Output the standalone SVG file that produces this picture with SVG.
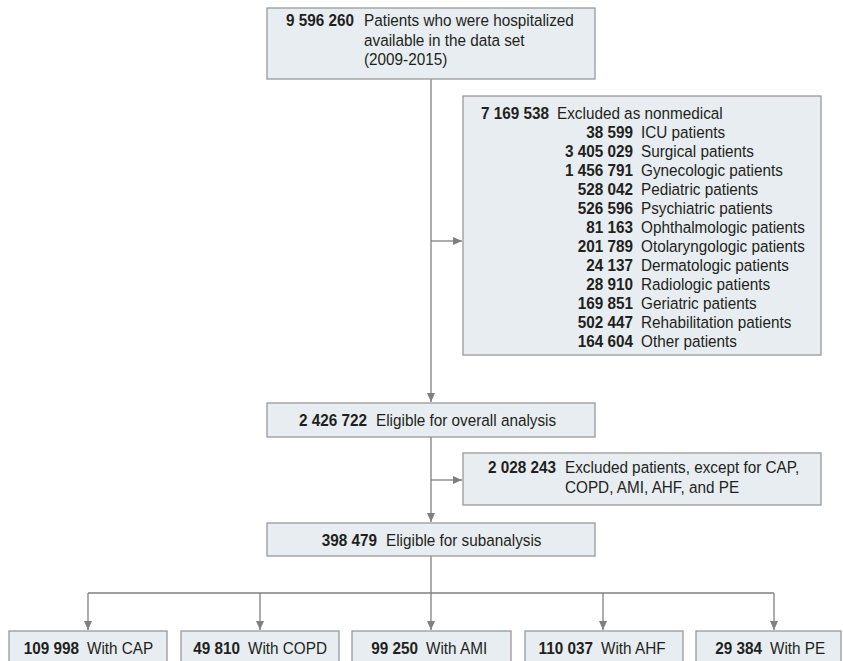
<svg xmlns="http://www.w3.org/2000/svg" width="843" height="661" viewBox="0 0 843 661">
<style>
.box{fill:#e7edf1;stroke:#999;stroke-width:1.3}
text{font-family:"Liberation Sans",Arial,sans-serif;font-size:17px;fill:#231f20}
.n{font-weight:bold;text-anchor:end}
.conn{fill:none;stroke:#808080;stroke-width:1.3}
</style>
<defs>
<marker id="ah" markerUnits="userSpaceOnUse" markerWidth="10" markerHeight="8" refX="9" refY="4" orient="auto">
<path d="M0,0 L9,4 L0,8 z" fill="#808080"/>
</marker>
</defs>
<g id="connectors" class="conn">
<line x1="431" y1="79" x2="431" y2="402" marker-end="url(#ah)"/>
<line x1="431" y1="241" x2="462" y2="241" marker-end="url(#ah)"/>
<line x1="431" y1="437" x2="431" y2="522" marker-end="url(#ah)"/>
<line x1="431" y1="480" x2="462" y2="480" marker-end="url(#ah)"/>
<line x1="431" y1="556" x2="431" y2="630" marker-end="url(#ah)"/>
<line x1="88" y1="593" x2="774" y2="593"/>
<line x1="88" y1="593" x2="88" y2="630" marker-end="url(#ah)"/>
<line x1="260" y1="593" x2="260" y2="630" marker-end="url(#ah)"/>
<line x1="603" y1="593" x2="603" y2="630" marker-end="url(#ah)"/>
<line x1="774" y1="593" x2="774" y2="630" marker-end="url(#ah)"/>
</g>
<g id="start">
<rect class="box" x="267" y="8" width="328" height="71"/>
<text class="n" transform="translate(354,26) scale(0.9,1)">9 596 260</text>
<text transform="translate(364,26) scale(0.9,1)">Patients who were hospitalized</text>
<text transform="translate(364,45.5) scale(0.9,1)">available in the data set</text>
<text transform="translate(364,65) scale(0.9,1)">(2009-2015)</text>
</g>
<g id="excluded1">
<rect class="box" x="463" y="96" width="358" height="259"/>
<text class="n" transform="translate(549,119) scale(0.9,1)">7 169 538</text>
<text transform="translate(557,119) scale(0.9,1)">Excluded as nonmedical</text>
<text class="n" transform="translate(633,138) scale(0.9,1)">38 599</text>
<text transform="translate(641,138) scale(0.9,1)">ICU patients</text>
<text class="n" transform="translate(633,157) scale(0.9,1)">3 405 029</text>
<text transform="translate(641,157) scale(0.9,1)">Surgical patients</text>
<text class="n" transform="translate(633,176) scale(0.9,1)">1 456 791</text>
<text transform="translate(641,176) scale(0.9,1)">Gynecologic patients</text>
<text class="n" transform="translate(633,195) scale(0.9,1)">528 042</text>
<text transform="translate(641,195) scale(0.9,1)">Pediatric patients</text>
<text class="n" transform="translate(633,214) scale(0.9,1)">526 596</text>
<text transform="translate(641,214) scale(0.9,1)">Psychiatric patients</text>
<text class="n" transform="translate(633,233) scale(0.9,1)">81 163</text>
<text transform="translate(641,233) scale(0.9,1)">Ophthalmologic patients</text>
<text class="n" transform="translate(633,252) scale(0.9,1)">201 789</text>
<text transform="translate(641,252) scale(0.9,1)">Otolaryngologic patients</text>
<text class="n" transform="translate(633,271) scale(0.9,1)">24 137</text>
<text transform="translate(641,271) scale(0.9,1)">Dermatologic patients</text>
<text class="n" transform="translate(633,290) scale(0.9,1)">28 910</text>
<text transform="translate(641,290) scale(0.9,1)">Radiologic patients</text>
<text class="n" transform="translate(633,309) scale(0.9,1)">169 851</text>
<text transform="translate(641,309) scale(0.9,1)">Geriatric patients</text>
<text class="n" transform="translate(633,328) scale(0.9,1)">502 447</text>
<text transform="translate(641,328) scale(0.9,1)">Rehabilitation patients</text>
<text class="n" transform="translate(633,347) scale(0.9,1)">164 604</text>
<text transform="translate(641,347) scale(0.9,1)">Other patients</text>
</g>
<g id="eligible">
<rect class="box" x="267" y="403" width="328" height="34"/>
<text class="n" transform="translate(367,426) scale(0.9,1)">2 426 722</text>
<text transform="translate(376,426) scale(0.9,1)">Eligible for overall analysis</text>
</g>
<g id="excluded2">
<rect class="box" x="463" y="453" width="358" height="52"/>
<text class="n" transform="translate(556,473) scale(0.9,1)">2 028 243</text>
<text transform="translate(565,473) scale(0.9,1)">Excluded patients, except for CAP,</text>
<text transform="translate(565,492.5) scale(0.9,1)">COPD, AMI, AHF, and PE</text>
</g>
<g id="subanalysis">
<rect class="box" x="267" y="523" width="328" height="33"/>
<text class="n" transform="translate(377,545.5) scale(0.9,1)">398 479</text>
<text transform="translate(386,545.5) scale(0.9,1)">Eligible for subanalysis</text>
</g>
<g id="cap">
<rect class="box" x="9" y="631" width="158" height="40"/>
<text class="n" transform="translate(79,654) scale(0.9,1)">109 998</text>
<text transform="translate(87,654) scale(0.9,1)">With CAP</text>
</g>
<g id="copd">
<rect class="box" x="181" y="631" width="158" height="40"/>
<text class="n" transform="translate(240,654) scale(0.9,1)">49 810</text>
<text transform="translate(248,654) scale(0.9,1)">With COPD</text>
</g>
<g id="ami">
<rect class="box" x="352" y="631" width="159" height="40"/>
<text class="n" transform="translate(418,654) scale(0.9,1)">99 250</text>
<text transform="translate(426,654) scale(0.9,1)">With AMI</text>
</g>
<g id="ahf">
<rect class="box" x="525" y="631" width="158" height="40"/>
<text class="n" transform="translate(593,654) scale(0.9,1)">110 037</text>
<text transform="translate(601,654) scale(0.9,1)">With AHF</text>
</g>
<g id="pe">
<rect class="box" x="696" y="631" width="145" height="40"/>
<text class="n" transform="translate(762,654) scale(0.9,1)">29 384</text>
<text transform="translate(770,654) scale(0.9,1)">With PE</text>
</g>
</svg>
